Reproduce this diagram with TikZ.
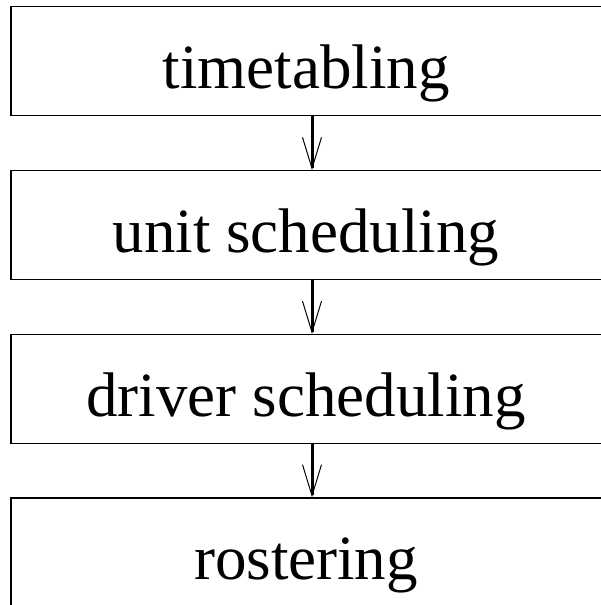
\documentclass[tikz,border=0pt]{standalone}
\usepackage{fontspec}
\setmainfont{Liberation Serif}
\usetikzlibrary{arrows.meta}
\begin{document}
\begin{tikzpicture}[x=1pt,y=1pt,
  stage/.style={draw=black, line width=1.2pt, rectangle, minimum width=596pt,
    minimum height=109pt, inner sep=0pt, text height=70pt, text depth=15pt,
    font=\fontsize{63}{70}\selectfont, execute at begin node={\hspace*{-6pt}}},
  flow/.style={line width=3pt, -{Straight Barb[length=31pt,width=19pt,line width=1pt]}}]
  \useasboundingbox (0,0) rectangle (600,605);
  \node[stage] (tt) at (309,544) {timetabling};
  \node[stage] (us) at (309,379.8) {unit scheduling};
  \node[stage] (ds) at (309,216) {driver scheduling};
  \node[stage] (ro) at (309,52.5) {rostering};
  \coordinate (ax) at (312,0);
  \draw[flow] (tt.south -| ax) -- (us.north -| ax);
  \draw[flow] (us.south -| ax) -- (ds.north -| ax);
  \draw[flow] (ds.south -| ax) -- (ro.north -| ax);
\end{tikzpicture}
\end{document}
